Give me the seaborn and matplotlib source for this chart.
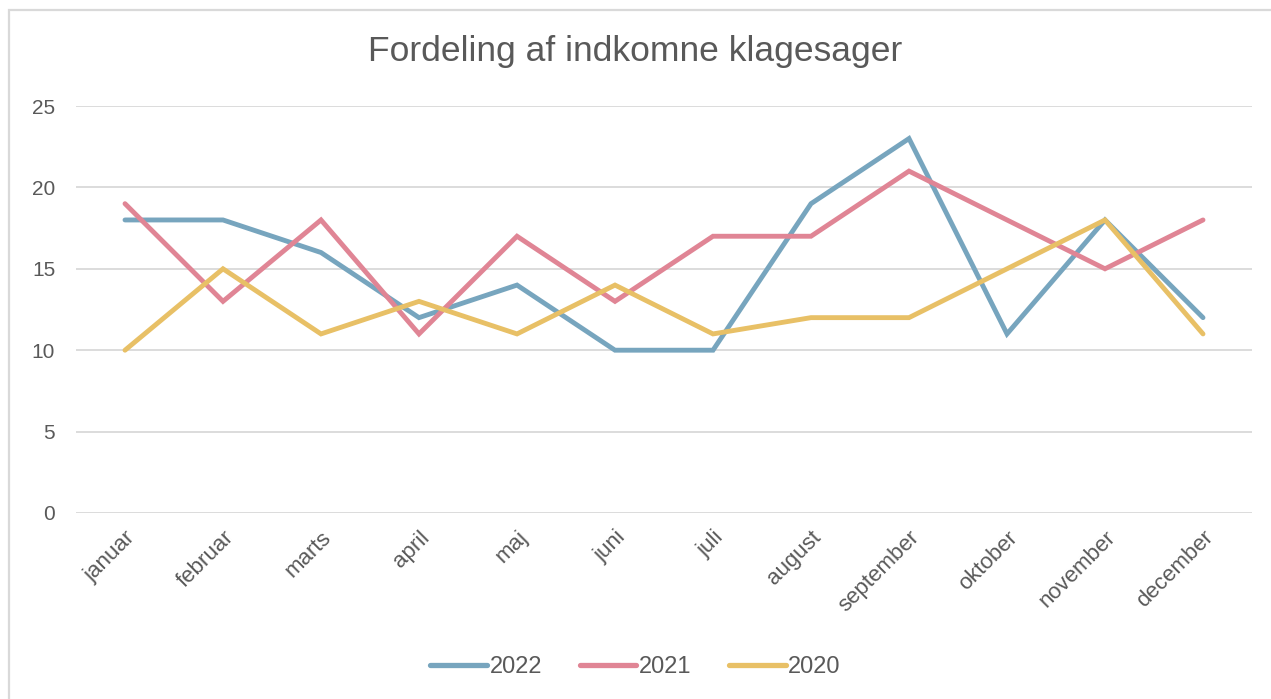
import pandas as pd
import matplotlib.pyplot as plt
import seaborn as sns
from matplotlib.patches import Rectangle

# --- data ---
MONTHS = ["januar", "februar", "marts", "april", "maj", "juni", "juli",
          "august", "september", "oktober", "november", "december"]
Y2022 = [18, 18, 16, 12, 14, 10, 10, 19, 23, 11, 18, 12]
Y2021 = [19, 13, 18, 11, 17, 13, 17, 17, 21, 18, 15, 18]
Y2020 = [10, 15, 11, 13, 11, 14, 11, 12, 12, 15, 18, 11]
SERIES = ["2022", "2021", "2020"]
Y_TICKS = [0, 5, 10, 15, 20, 25]

PALETTE = {"2022": "#77A5BE", "2021": "#E08595", "2020": "#E8C066"}
TEXT_COLOR = "#595959"

sns.set_theme(style="white")
plt.rcParams['font.family'] = ['Liberation Sans', 'DejaVu Sans']

df = pd.DataFrame({
    "month": MONTHS * 3,
    "pos": list(range(len(MONTHS))) * 3,
    "value": Y2022 + Y2021 + Y2020,
    "year": [s for s in SERIES for _ in MONTHS],
})

fig = plt.figure(figsize=(12.71, 6.99), dpi=100)
ax = fig.add_axes([76 / 1271, 1 - 513 / 699, (1252 - 76) / 1271, (513 - 106) / 699])

# outer chart frame
fig.patches.append(Rectangle((9 / 1271, -0.01), 1.0, 1 - 10 / 699 + 0.01,
                             transform=fig.transFigure, fill=False,
                             edgecolor="#D9D9D9", linewidth=1.6))

sns.lineplot(data=df, x="pos", y="value", hue="year", hue_order=SERIES,
             palette=PALETTE, linewidth=3.5, ax=ax, legend=False,
             solid_capstyle="round", solid_joinstyle="miter")

ax.set_xlim(-0.5, len(MONTHS) - 0.5)
ax.set_ylim(0, 25)
ax.set_yticks(Y_TICKS)
ax.set_xticks(range(len(MONTHS)))
ax.set_xticklabels(MONTHS, rotation=45, ha="right", rotation_mode="anchor")
ax.tick_params(axis="both", length=0, labelsize=15, colors=TEXT_COLOR)
ax.tick_params(axis="x", labelsize=16, pad=10)
ax.tick_params(axis="y", pad=15)
ax.set_xlabel("")
ax.set_ylabel("")
ax.yaxis.grid(True, color="#D9D9D9", linewidth=1.3)
ax.set_axisbelow(True)
for s in ax.spines.values():
    s.set_visible(False)

fig.text(0.5, 1 - 52 / 699, "Fordeling af indkomne klagesager",
         ha="center", va="center", fontsize=25.5, color=TEXT_COLOR)

handles = [plt.Line2D([0], [0], color=PALETTE[s], linewidth=3.8,
                      solid_capstyle="round") for s in SERIES]
fig.legend(handles, SERIES, loc="center", bbox_to_anchor=(0.5, 1 - 667 / 699),
           ncol=3, frameon=False, fontsize=17, handlelength=2.4,
           handletextpad=0.1, columnspacing=1.6, labelcolor=TEXT_COLOR)

fig.savefig("out.png", dpi=100, facecolor="white")
